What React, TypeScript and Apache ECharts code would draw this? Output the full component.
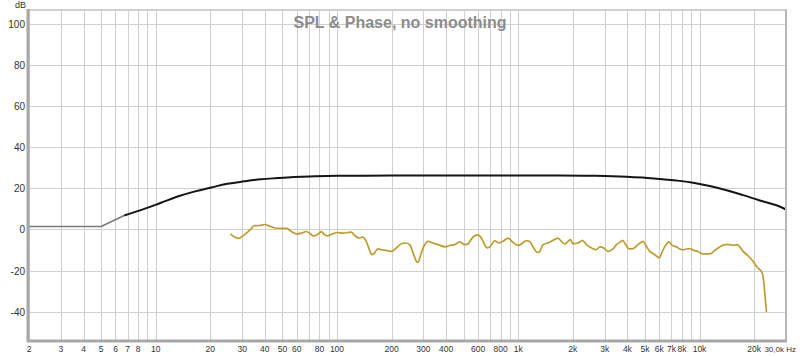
import React, { useEffect, useRef } from "react";
import * as echarts from "echarts";

const TITLE = "SPL & Phase, no smoothing";
const Y_UNIT = "dB";

const X_MIN_HZ = 2;
const X_MAX_HZ = 30000;
const Y_MIN = -54.3;
const Y_MAX = 106.8;

const X_GRID_HZ = [2, 3, 4, 5, 6, 7, 8, 9, 10, 20, 30, 40, 50, 60, 70, 80, 90, 100, 200, 300, 400, 500, 600, 700, 800, 900, 1000, 2000, 3000, 4000, 5000, 6000, 7000, 8000, 9000, 10000, 20000];
const X_LABEL_HZ = [2, 3, 4, 5, 6, 7, 8, 10, 20, 30, 40, 50, 60, 80, 100, 200, 300, 400, 600, 800, 1000, 2000, 3000, 4000, 5000, 6000, 7000, 8000, 10000, 20000];
const X_END_LABEL = "30,0k Hz";
const Y_TICKS = [-40, -20, 0, 20, 40, 60, 80, 100];

// SPL (black), extrapolated low part drawn grey
const SPL_LOW_HZ = [2, 5, 6.7];
const SPL_LOW_DB = [1.4, 1.4, 6.8];
const SPL_HZ = [6.7, 8.65, 10.7, 13.2, 16.3, 20.2, 24.9, 30.8, 38.1, 47, 58, 71, 100, 200, 500, 1000, 1694, 2586, 3952, 6035, 7462, 9216, 11388, 14082, 17396, 21504, 26586, 30000];
const SPL_DB = [6.8, 10.0, 13.0, 16.0, 18.4, 20.4, 22.2, 23.4, 24.4, 25.0, 25.5, 25.8, 26.1, 26.2, 26.3, 26.3, 26.3, 26.1, 25.6, 24.6, 23.8, 22.7, 21.1, 19.1, 16.7, 14.1, 11.8, 9.7];

// Phase / second trace (gold)
const PH_HZ = [25.8, 27.2, 28.8, 30.0, 31.6, 33.3, 34.8, 37.4, 39.9, 42.5, 45.3, 49.3, 52.9, 56.0, 59.7, 63.6, 67.7, 70.6, 73.7, 77.5, 82.0, 85.5, 89.1, 95.0, 101, 108, 115, 120, 125, 132, 139, 145, 151, 156, 161, 168, 176, 187, 200, 213, 222, 236, 252, 263, 274, 280, 288, 301, 318, 339, 361, 396, 419, 446, 475, 506, 528, 551, 575, 600, 626, 653, 672, 702, 741, 783, 824, 878, 935, 997, 1041, 1099, 1156, 1217, 1269, 1313, 1370, 1460, 1555, 1657, 1709, 1805, 1882, 1940, 2005, 2137, 2260, 2378, 2534, 2700, 2814, 2962, 3129, 3334, 3480, 3630, 3757, 3916, 4085, 4299, 4580, 4880, 5096, 5315, 5662, 5981, 6293, 6572, 6791, 7092, 7462, 7780, 8185, 8536, 8913, 9296, 9818, 10252, 10826, 11494, 12138, 12935, 13786, 14690, 15319, 16116, 16680, 17396, 18537, 19747, 20780, 21970, 22424, 22914, 23412];
const PH_DB = [-2.2, -3.7, -4.4, -3.4, -1.8, -0.1, 1.8, 1.9, 2.4, 1.6, 0.7, 0.5, 0.5, -1.0, -2.2, -1.8, -1.0, -1.8, -3.1, -2.7, -1.1, -2.6, -3.1, -2.1, -1.5, -1.8, -1.5, -1.3, -2.9, -4.2, -3.7, -5.8, -9.9, -12.3, -11.5, -9.5, -9.9, -10.2, -10.7, -9.0, -7.4, -6.6, -7.4, -11.5, -15.5, -16.0, -13.1, -8.3, -5.8, -6.6, -7.4, -8.5, -7.8, -7.4, -6.1, -7.4, -7.1, -4.7, -3.1, -2.6, -4.2, -7.4, -9.0, -8.3, -5.5, -6.6, -5.8, -4.2, -6.3, -7.8, -7.1, -5.5, -5.8, -9.0, -11.2, -10.7, -7.4, -6.6, -5.3, -4.2, -5.3, -7.1, -5.8, -5.0, -6.9, -6.6, -5.3, -7.4, -9.0, -9.9, -8.5, -9.0, -10.7, -9.5, -7.4, -6.3, -5.3, -7.4, -9.5, -9.4, -7.4, -5.8, -8.3, -10.7, -12.3, -13.9, -9.9, -7.1, -6.1, -7.9, -8.5, -9.5, -9.9, -9.4, -9.4, -10.2, -10.7, -11.8, -11.9, -11.8, -10.2, -8.5, -7.4, -7.4, -7.8, -7.4, -8.5, -10.7, -12.8, -15.5, -18.3, -20.4, -22.8, -30.9, -40.1];

const W = 800;
const H = 356;
const GRID = { left: 29, top: 10, right: 14, bottom: 15 };
const FONT = "'Liberation Sans', Arial, sans-serif";

const lg = (f: number) => Math.log10(f);
const fmtHz = (f: number) => (f >= 1000 ? `${f / 1000}k` : `${f}`);

export default function App() {
  const ref = useRef<HTMLDivElement>(null);

  useEffect(() => {
    if (!ref.current) return;
    const chart = echarts.init(ref.current, undefined, { renderer: "svg" });
    const xMin = lg(X_MIN_HZ);
    const xMax = lg(X_MAX_HZ);
    const gx0 = GRID.left;
    const gy0 = GRID.top;
    const gx1 = W - GRID.right;
    const gy1 = H - GRID.bottom;

    const option: any = {
      animation: false,
      backgroundColor: "#ffffff",
      title: {
        text: TITLE,
        left: "center",
        top: 9,
        textStyle: { fontSize: 16, fontWeight: "bold", color: "#8c8c8c", fontFamily: FONT },
      },
      grid: { left: GRID.left, top: GRID.top, right: GRID.right, bottom: GRID.bottom, containLabel: false },
      xAxis: {
        type: "value",
        min: xMin,
        max: xMax,
        show: false,
        splitLine: { show: false },
      },
      yAxis: {
        type: "value",
        min: Y_MIN,
        max: Y_MAX,
        show: false,
        splitLine: { show: false },
      },
      graphic: [
        { type: "text", left: 15, top: 0, style: { text: Y_UNIT, fontSize: 9, fill: "#333", fontFamily: FONT } },
        { type: "line", shape: { x1: gx0 - 1, y1: gy0, x2: gx1 + 1, y2: gy0 }, style: { stroke: "#cfcfcf", lineWidth: 2 }, z: 10 },
        { type: "line", shape: { x1: gx1, y1: gy0, x2: gx1, y2: gy1 }, style: { stroke: "#b8b8b8", lineWidth: 2 }, z: 10 },
        { type: "line", shape: { x1: gx0 - 1, y1: gy0 - 1, x2: gx0 - 1, y2: gy1 + 1 }, style: { stroke: "#a8a8a8", lineWidth: 3 }, z: 10 },
        { type: "line", shape: { x1: gx0 - 2, y1: gy1, x2: gx1 + 1, y2: gy1 }, style: { stroke: "#a8a8a8", lineWidth: 3 }, z: 10 },
      ],
      series: [
        {
          type: "custom",
          name: "xgrid",
          silent: true,
          z: 1,
          data: X_GRID_HZ.map((f) => [lg(f)]),
          renderItem: (params: any, api: any) => {
            const cs = params.coordSys;
            const x = Math.round(api.coord([api.value(0), 0])[0]) + 0.5;
            return {
              type: "line",
              shape: { x1: x, y1: cs.y, x2: x, y2: cs.y + cs.height },
              style: { stroke: "#d0d0d0", lineWidth: 1 },
            };
          },
        },
        {
          type: "custom",
          name: "ygrid",
          silent: true,
          z: 1,
          data: Y_TICKS.map((v) => [xMin, v]),
          renderItem: (params: any, api: any) => {
            const cs = params.coordSys;
            const y = Math.round(api.coord([xMin, api.value(1)])[1]) + 0.5;
            return {
              type: "group",
              children: [
                {
                  type: "line",
                  shape: { x1: cs.x, y1: y, x2: cs.x + cs.width, y2: y },
                  style: { stroke: "#d0d0d0", lineWidth: 1 },
                },
                {
                  type: "text",
                  x: cs.x - 4,
                  y: y,
                  style: {
                    text: String(api.value(1)),
                    align: "right",
                    verticalAlign: "middle",
                    textAlign: "right",
                    textVerticalAlign: "middle",
                    fontSize: 10,
                    fontFamily: FONT,
                    fill: "#333",
                  },
                },
              ],
            };
          },
        },
        {
          type: "custom",
          name: "xlabels",
          silent: true,
          z: 2,
          data: X_LABEL_HZ.map((f) => [lg(f), f]),
          renderItem: (params: any, api: any) => {
            const cs = params.coordSys;
            const x = api.coord([api.value(0), 0])[0];
            return {
              type: "text",
              x: x,
              y: cs.y + cs.height + 8,
              style: {
                text: fmtHz(api.value(1)),
                align: "center",
                verticalAlign: "middle",
                textAlign: "center",
                textVerticalAlign: "middle",
                fontSize: 8.5,
                fontFamily: FONT,
                fill: "#333",
              },
            };
          },
        },
        {
          type: "custom",
          name: "xend",
          silent: true,
          z: 2,
          data: [[xMax]],
          renderItem: (params: any, api: any) => {
            const cs = params.coordSys;
            const x = api.coord([api.value(0), 0])[0];
            return {
              type: "text",
              x: x + 10,
              y: cs.y + cs.height + 8,
              style: {
                text: X_END_LABEL,
                align: "right",
                verticalAlign: "middle",
                textAlign: "right",
                textVerticalAlign: "middle",
                fontSize: 8,
                fontFamily: FONT,
                fill: "#333",
              },
            };
          },
        },
        {
          type: "line",
          name: "SPL extrapolated",
          z: 3,
          showSymbol: false,
          data: SPL_LOW_HZ.map((f, i) => [lg(f), SPL_LOW_DB[i]]),
          lineStyle: { color: "#7a7a7a", width: 1.6 },
        },
        {
          type: "line",
          name: "SPL",
          z: 4,
          showSymbol: false,
          smooth: 0.4,
          data: SPL_HZ.map((f, i) => [lg(f), SPL_DB[i]]),
          lineStyle: { color: "#151515", width: 2 },
        },
        {
          type: "line",
          name: "Phase",
          z: 4,
          showSymbol: false,
          smooth: 0.25,
          data: PH_HZ.map((f, i) => [lg(f), PH_DB[i]]),
          lineStyle: { color: "#BE9C2E", width: 1.7 },
        },
      ],
    };

    chart.setOption(option);
    return () => chart.dispose();
  }, []);

  return (
    <div
      ref={ref}
      style={{ position: "absolute", left: 0, top: 0, width: W, height: H, background: "#fff" }}
    />
  );
}
